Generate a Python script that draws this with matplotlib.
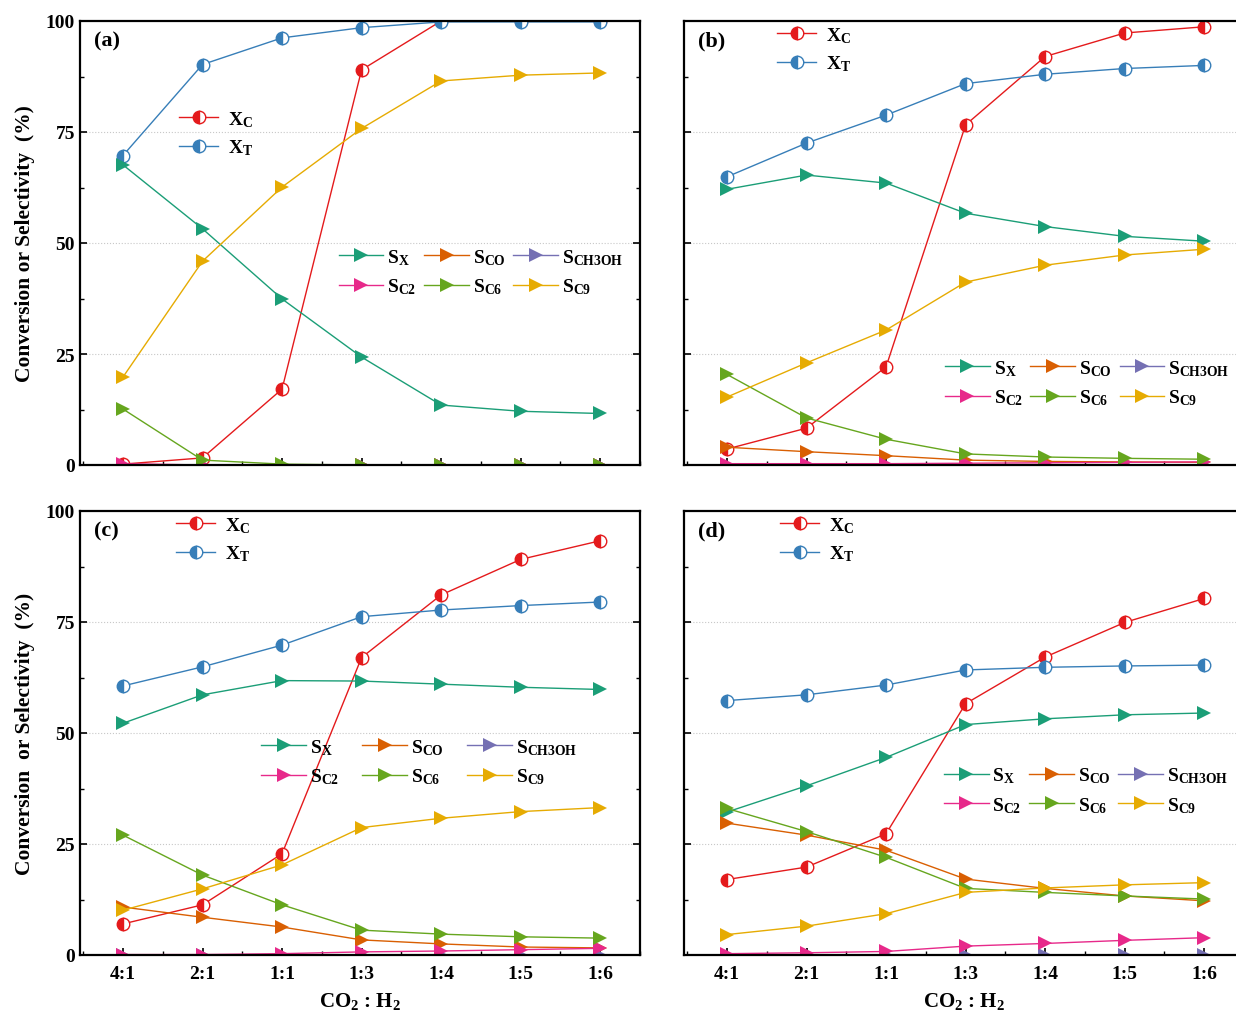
import numpy as np
import matplotlib
matplotlib.use("Agg")
import matplotlib.pyplot as plt
from matplotlib.ticker import MultipleLocator

# CO2 : H2 feed ratios
ratios = ["4:1", "2:1", "1:1", "1:3", "1:4", "1:5", "1:6"]

# (a)
xc_a = [0.2, 1.6, 17.1, 89.0, 100.0, 100.0, 100.0]
xt_a = [69.7, 90.2, 96.2, 98.5, 99.8, 99.8, 99.8]
sx_a = [67.6, 53.2, 37.4, 24.3, 13.5, 12.1, 11.6]
sco_a = [0.0, 0.0, 0.0, 0.0, 0.0, 0.0, 0.0]
sch3oh_a = [0.0, 0.0, 0.0, 0.0, 0.0, 0.0, 0.0]
sc2_a = [0.3, 0.0, 0.0, 0.0, 0.0, 0.0, 0.0]
sc6_a = [12.6, 1.1, 0.2, 0.0, 0.0, 0.0, 0.0]
sc9_a = [19.8, 45.9, 62.6, 75.8, 86.5, 87.8, 88.3]

# (b)
xc_b = [3.6, 8.3, 22.1, 76.6, 92.0, 97.3, 98.7]
xt_b = [64.9, 72.5, 78.8, 85.9, 88.0, 89.3, 90.0]
sx_b = [62.1, 65.3, 63.5, 56.7, 53.7, 51.5, 50.4]
sco_b = [4.0, 3.0, 2.1, 1.1, 0.8, 0.7, 0.6]
sch3oh_b = [0.0, 0.0, 0.0, 0.0, 0.0, 0.0, 0.0]
sc2_b = [0.3, 0.3, 0.3, 0.4, 0.5, 0.6, 0.7]
sc6_b = [20.4, 10.6, 5.8, 2.5, 1.8, 1.5, 1.3]
sc9_b = [15.3, 23.0, 30.4, 41.2, 45.0, 47.3, 48.6]

# (c)
xc_c = [7.0, 11.3, 22.8, 67.0, 81.1, 89.1, 93.3]
xt_c = [60.6, 64.9, 69.8, 76.2, 77.7, 78.7, 79.5]
sx_c = [52.2, 58.6, 61.8, 61.7, 61.0, 60.3, 59.8]
sco_c = [10.8, 8.5, 6.3, 3.4, 2.5, 1.8, 1.6]
sch3oh_c = [0.0, 0.0, 0.0, 0.0, 0.0, 0.0, 0.0]
sc2_c = [0.1, 0.1, 0.3, 0.7, 0.9, 1.2, 1.5]
sc6_c = [27.0, 18.0, 11.3, 5.6, 4.7, 4.1, 3.8]
sc9_c = [10.1, 14.9, 20.3, 28.7, 30.8, 32.3, 33.2]

# (d)
xc_d = [17.0, 19.8, 27.3, 56.6, 67.1, 74.9, 80.3]
xt_d = [57.3, 58.6, 60.8, 64.2, 64.8, 65.1, 65.3]
sx_d = [32.2, 38.1, 44.5, 51.9, 53.2, 54.1, 54.5]
sco_d = [29.7, 27.0, 23.6, 17.1, 15.0, 13.3, 12.2]
sch3oh_d = [0.0, 0.0, 0.0, 0.0, 0.0, 0.0, 0.0]
sc2_d = [0.3, 0.5, 0.8, 2.0, 2.6, 3.3, 3.9]
sc6_d = [33.0, 27.8, 22.0, 15.0, 14.1, 13.3, 12.6]
sc9_d = [4.6, 6.5, 9.3, 14.1, 15.1, 15.8, 16.3]

XC_COLOR = "#e41a1c"
XT_COLOR = "#377eb8"
S_COLORS = {
    "sx": "#1b9e77",
    "sco": "#d95f02",
    "sch3oh": "#7570b3",
    "sc2": "#e7298a",
    "sc6": "#66a61e",
    "sc9": "#e6ab02",
}
S_LABELS = {
    "sx": r"S$_\mathbf{X}$",
    "sco": r"S$_\mathbf{CO}$",
    "sch3oh": r"S$_\mathbf{CH3OH}$",
    "sc2": r"S$_\mathbf{C2}$",
    "sc6": r"S$_\mathbf{C6}$",
    "sc9": r"S$_\mathbf{C9}$",
}

plt.rcParams["font.family"] = ["Liberation Serif", "DejaVu Serif"]
plt.rcParams["font.weight"] = "bold"
plt.rcParams["mathtext.fontset"] = "custom"
plt.rcParams["mathtext.rm"] = "Liberation Serif:bold"
plt.rcParams["mathtext.bf"] = "Liberation Serif:bold"
plt.rcParams["mathtext.default"] = "bf"


def draw_panel(ax, tag, xc, xt, s, xleg, sleg, colsp=0.4, ylabel=None,
               xlabels=True):
    """Draw one panel of conversions and selectivities."""
    x = np.arange(len(ratios))

    for vals, color, label in [(xc, XC_COLOR, r"X$_\mathbf{C}$"),
                               (xt, XT_COLOR, r"X$_\mathbf{T}$")]:
        ax.plot(x, vals, color=color, lw=1.0, marker="o", markersize=9,
                fillstyle="left", markerfacecolor=color,
                markerfacecoloralt="white", markeredgecolor=color,
                markeredgewidth=1.0, label=label)

    s_handles = []
    for key in ["sx", "sco", "sch3oh", "sc2", "sc6", "sc9"]:
        h, = ax.plot(x, s[key], color=S_COLORS[key], lw=1.0, marker=">",
                     markersize=10.5, markeredgewidth=0, label=S_LABELS[key])
        s_handles.append(h)

    ax.set_xlim(-0.54, 6.5)
    ax.set_ylim(0, 100)
    ax.set_xticks(x)
    ax.xaxis.set_minor_locator(MultipleLocator(0.5))
    ax.yaxis.set_major_locator(MultipleLocator(25))
    ax.yaxis.set_minor_locator(MultipleLocator(12.5))
    ax.tick_params(which="both", direction="in", left=True, right=True,
                   top=False, bottom=True, labelsize=14)
    ax.tick_params(axis="x", pad=7)
    ax.tick_params(which="major", length=5, width=1.2)
    ax.tick_params(which="minor", length=3, width=1.0)
    for sp in ax.spines.values():
        sp.set_linewidth(1.6)

    # dotted guides at the inner major ticks
    for yv in [25, 50, 75]:
        ax.axhline(yv, color="#c8c8c8", lw=0.8, ls=":", zorder=0)

    if xlabels:
        ax.set_xticklabels(ratios, fontweight="bold")
        ax.set_xlabel(r"CO$_\mathbf{2}$ : H$_\mathbf{2}$", fontsize=15,
                      fontweight="bold", labelpad=6)
    else:
        ax.set_xticklabels([])

    if ylabel:
        ax.set_ylabel(ylabel, fontsize=15.5, fontweight="bold", labelpad=8)
        for lab in ax.get_yticklabels():
            lab.set_fontweight("bold")
    else:
        ax.set_yticklabels([])

    ax.text(0.025, 0.978, tag, transform=ax.transAxes, fontsize=16,
            fontweight="bold", va="top", ha="left")

    handles, labels = ax.get_legend_handles_labels()
    leg1 = ax.legend(handles[:2], labels[:2], loc="upper left",
                     bbox_to_anchor=xleg, frameon=False,
                     prop={"size": 14, "weight": "bold"},
                     handlelength=2.0, handletextpad=0.5, labelspacing=0.45,
                     borderaxespad=0, borderpad=0.2)
    ax.add_artist(leg1)

    order = [0, 3, 1, 4, 2, 5]
    keys = list(S_LABELS)
    ax.legend([s_handles[i] for i in order],
              [S_LABELS[keys[i]] for i in order],
              loc="upper left", bbox_to_anchor=sleg, ncol=3, frameon=False,
              prop={"size": 14, "weight": "bold"},
              handlelength=2.3, handletextpad=0.2, columnspacing=colsp,
              labelspacing=0.5, borderaxespad=0, borderpad=0.2)


def main() -> None:
    """Build the 2x2 figure and save it."""
    fig = plt.figure(figsize=(12.36, 10.12), dpi=100)

    w = 560 / 1236
    h = 444 / 1012
    ax_a = fig.add_axes([80 / 1236, 1 - 466 / 1012, w, h])
    ax_b = fig.add_axes([684 / 1236, 1 - 466 / 1012, w, h])
    ax_c = fig.add_axes([80 / 1236, 1 - 956 / 1012, w, h])
    ax_d = fig.add_axes([684 / 1236, 1 - 956 / 1012, w, h])

    draw_panel(ax_a, "(a)", xc_a, xt_a,
               dict(sx=sx_a, sco=sco_a, sch3oh=sch3oh_a, sc2=sc2_a,
                    sc6=sc6_a, sc9=sc9_a),
               xleg=(0.17, 0.81), sleg=(0.455, 0.50),
               ylabel="Conversion or Selectivity  (%)", xlabels=False)
    draw_panel(ax_b, "(b)", xc_b, xt_b,
               dict(sx=sx_b, sco=sco_b, sch3oh=sch3oh_b, sc2=sc2_b,
                    sc6=sc6_b, sc9=sc9_b),
               xleg=(0.16, 1.0), sleg=(0.459, 0.25), xlabels=False)
    draw_panel(ax_c, "(c)", xc_c, xt_c,
               dict(sx=sx_c, sco=sco_c, sch3oh=sch3oh_c, sc2=sc2_c,
                    sc6=sc6_c, sc9=sc9_c),
               xleg=(0.165, 1.0), sleg=(0.317, 0.50), colsp=1.2,
               ylabel="Conversion  or Selectivity  (%)")
    draw_panel(ax_d, "(d)", xc_d, xt_d,
               dict(sx=sx_d, sco=sco_d, sch3oh=sch3oh_d, sc2=sc2_d,
                    sc6=sc6_d, sc9=sc9_d),
               xleg=(0.165, 1.0), sleg=(0.457, 0.435))

    fig.savefig("out.png", dpi=100)


if __name__ == "__main__":
    main()
